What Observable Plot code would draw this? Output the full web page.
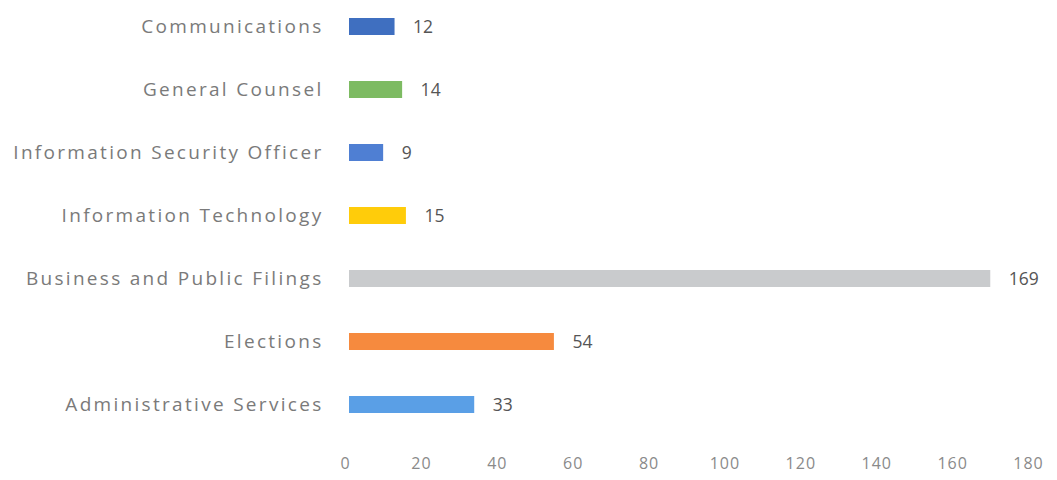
<!DOCTYPE html>
<html>
<head>
<meta charset="utf-8">
<script src="https://cdn.jsdelivr.net/npm/d3@7"></script>
<script src="https://cdn.jsdelivr.net/npm/@observablehq/plot@0.6"></script>
<style>
  html, body { margin: 0; padding: 0; background: #fff; }
  #chart svg { display: block; }
</style>
</head>
<body>
<div id="chart"></div>
<script>
const categories = [
  "Communications",
  "General Counsel",
  "Information Security Officer",
  "Information Technology",
  "Business and Public Filings",
  "Elections",
  "Administrative Services"
];
const values = [12, 14, 9, 15, 169, 54, 33];
const colors = ["#3f6fc0", "#7dbb62", "#4f7fd3", "#ffcc0a", "#c9cbcd", "#f68a3e", "#5a9fe6"];
const xTicks = [0, 20, 40, 60, 80, 100, 120, 140, 160, 180];

const data = categories.map((c, i) => ({category: c, value: values[i], color: colors[i]}));

const chart = Plot.plot({
  width: 1057,
  height: 480,
  marginLeft: 349,
  marginRight: 25,
  marginTop: 0,
  marginBottom: 30,
  style: {fontFamily: "'Open Sans', sans-serif", background: "#fff"},
  x: {domain: [0, 180], ticks: xTicks},
  y: {domain: categories, range: [-6, 438], paddingInner: 0.73, paddingOuter: 0.365},
  marks: [
    Plot.ruleX(xTicks, {stroke: "#f3f3f3", y1: -6, y2: 450}),
    Plot.barX(data, {x: "value", y: "category", fill: "color"}),
    Plot.text(data, {x: "value", y: "category", text: d => String(d.value), textAnchor: "start", dx: 18, fill: "#555", fontSize: 17.5}),
    Plot.axisX({ticks: xTicks, tickSize: 0, tickPadding: 7, dx: -4, fontSize: 16, color: "#8a8a8a", label: null}),
    Plot.axisY({tickSize: 0, tickPadding: 26, fontSize: 19, color: "#7a7a7a", label: null})
  ]
});
d3.select(chart).selectAll("g[aria-label='y-axis tick label'] text").style("letter-spacing", "2.3px");
d3.select(chart).selectAll("g[aria-label='x-axis tick label'] text").style("letter-spacing", "1px");
document.getElementById("chart").appendChild(chart);
</script>
</body>
</html>
